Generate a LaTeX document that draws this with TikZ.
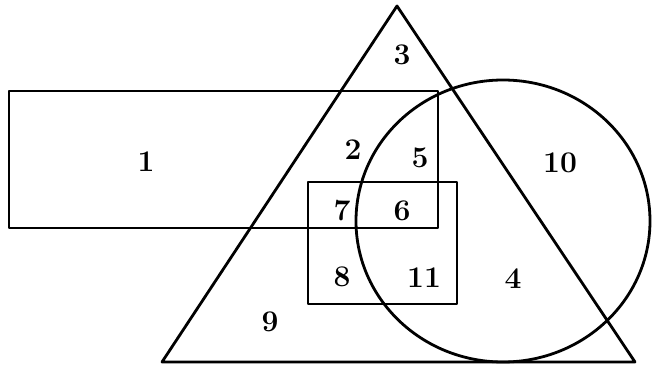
\documentclass[tikz,border=0pt]{standalone}
\usepackage{fontspec}
\begin{document}
\begin{tikzpicture}[x=1pt,y=-1pt,
  shapeline/.style={line width=2.8pt,line join=round},
  lbl/.style={font=\fontsize{30}{32}\selectfont\bfseries,inner sep=0pt}]
\useasboundingbox (0,0) rectangle (654,369);
% triangle
\coordinate (tA) at (397,6);
\coordinate (tL) at (162,362);
\coordinate (tR) at (635,362);
\draw[shapeline] (tA) -- (tL) -- (tR) -- cycle;
% long rectangle
\coordinate (r1a) at (9,91);
\coordinate (r1b) at (438,228);
\draw[shapeline] (r1a) rectangle (r1b);
% small rectangle
\coordinate (r2a) at (308,182);
\coordinate (r2b) at (457,304);
\draw[shapeline] (r2a) rectangle (r2b);
% circle
\coordinate (cc) at (503,221);
\draw[shapeline] (cc) ellipse [x radius=147, y radius=141];
% labels
\node[lbl] (n1) at (146,162) {1};
\node[lbl] (n2) at (353,150) {2};
\node[lbl] (n3) at (402,55) {3};
\node[lbl] (n4) at (513,279) {4};
\node[lbl] (n5) at (420,158) {5};
\node[lbl] (n6) at (402,211) {6};
\node[lbl] (n7) at (342,211) {7};
\node[lbl] (n8) at (342,277) {8};
\node[lbl] (n9) at (270,322) {9};
\node[lbl] (n10) at (560,163) {10};
\node[lbl] (n11) at (424,278) {11};
\end{tikzpicture}
\end{document}
